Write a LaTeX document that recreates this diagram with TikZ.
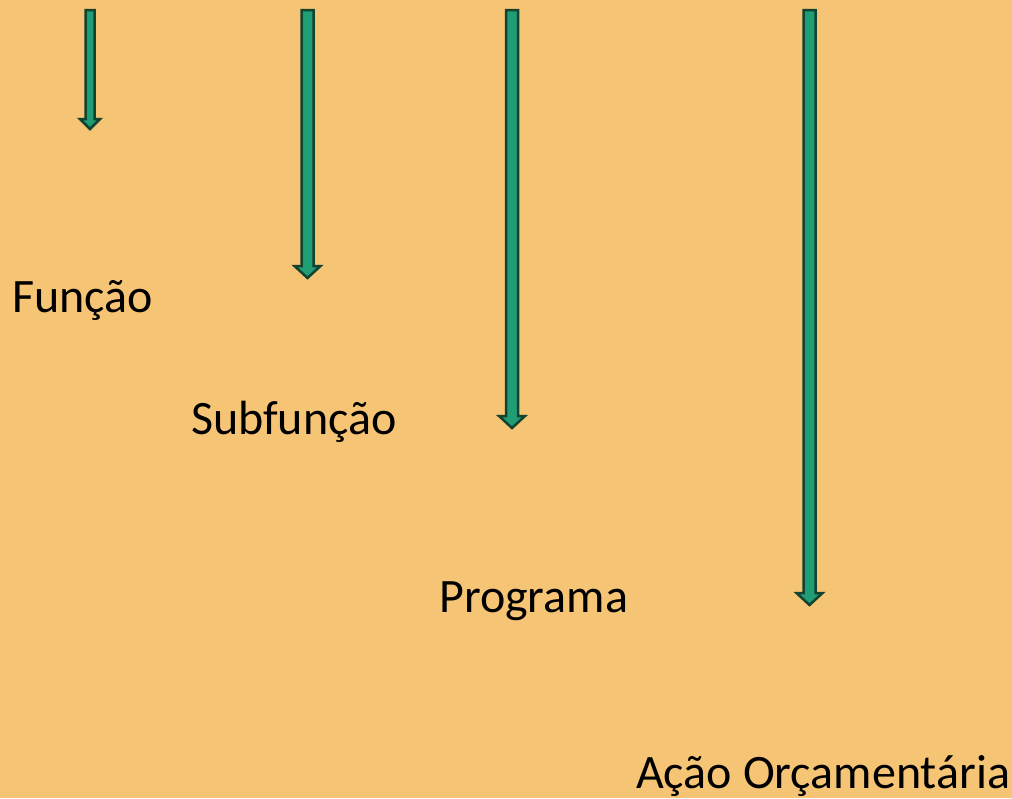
\documentclass[tikz,border=0pt]{standalone}
\usepackage{fontspec}
\setmainfont{Carlito}
\usepackage{tikz}
\usetikzlibrary{calc,positioning}
\definecolor{bg}{RGB}{246, 196, 117}
\definecolor{arrowfill}{RGB}{31, 158, 117}
\definecolor{arrowline}{RGB}{18, 66, 48}
\tikzstyle{level} = [draw=none, fill=none, inner sep=0pt, anchor=base west, font=\fontsize{48}{56}\selectfont]
\tikzstyle{blockarrow} = [fill=arrowfill, draw=arrowline, line width=2.5pt, line join=miter]

\begin{document}
\begin{tikzpicture}[x=1pt, y=-1pt]

% background =============================
\fill[bg] (0,0) rectangle (1012,798);
\useasboundingbox (0,0) rectangle (1012,798);

% levels
\node[level] (funcao) at (12,312) {Função};
\node[level] (subfuncao) at (191,434) {Subfunção};
\node[level] (programa) at (439,612) {Programa};
\node[level] (acao) at (636,788) {Ação Orçamentária};

% arrow ends
\coordinate (s1) at (90,10);    \coordinate (t1) at (90,129);
\coordinate (s2) at (307.5,10); \coordinate (t2) at (307.5,278);
\coordinate (s3) at (512,10);   \coordinate (t3) at (512,428);
\coordinate (s4) at (809.5,10); \coordinate (t4) at (809.5,605);

% arrows
\foreach \i/\w/\hw/\hh in {1/4.5/10/10, 2/6/13/12, 3/6/13/12, 4/6/13/12}
  \draw[blockarrow] ($(s\i)+(-\w,0)$) -- ($(t\i)+(-\w,-\hh)$) -- ($(t\i)+(-\hw,-\hh)$)
    -- (t\i) -- ($(t\i)+(\hw,-\hh)$) -- ($(t\i)+(\w,-\hh)$) -- ($(s\i)+(\w,0)$) -- cycle;

\end{tikzpicture}
\end{document}
